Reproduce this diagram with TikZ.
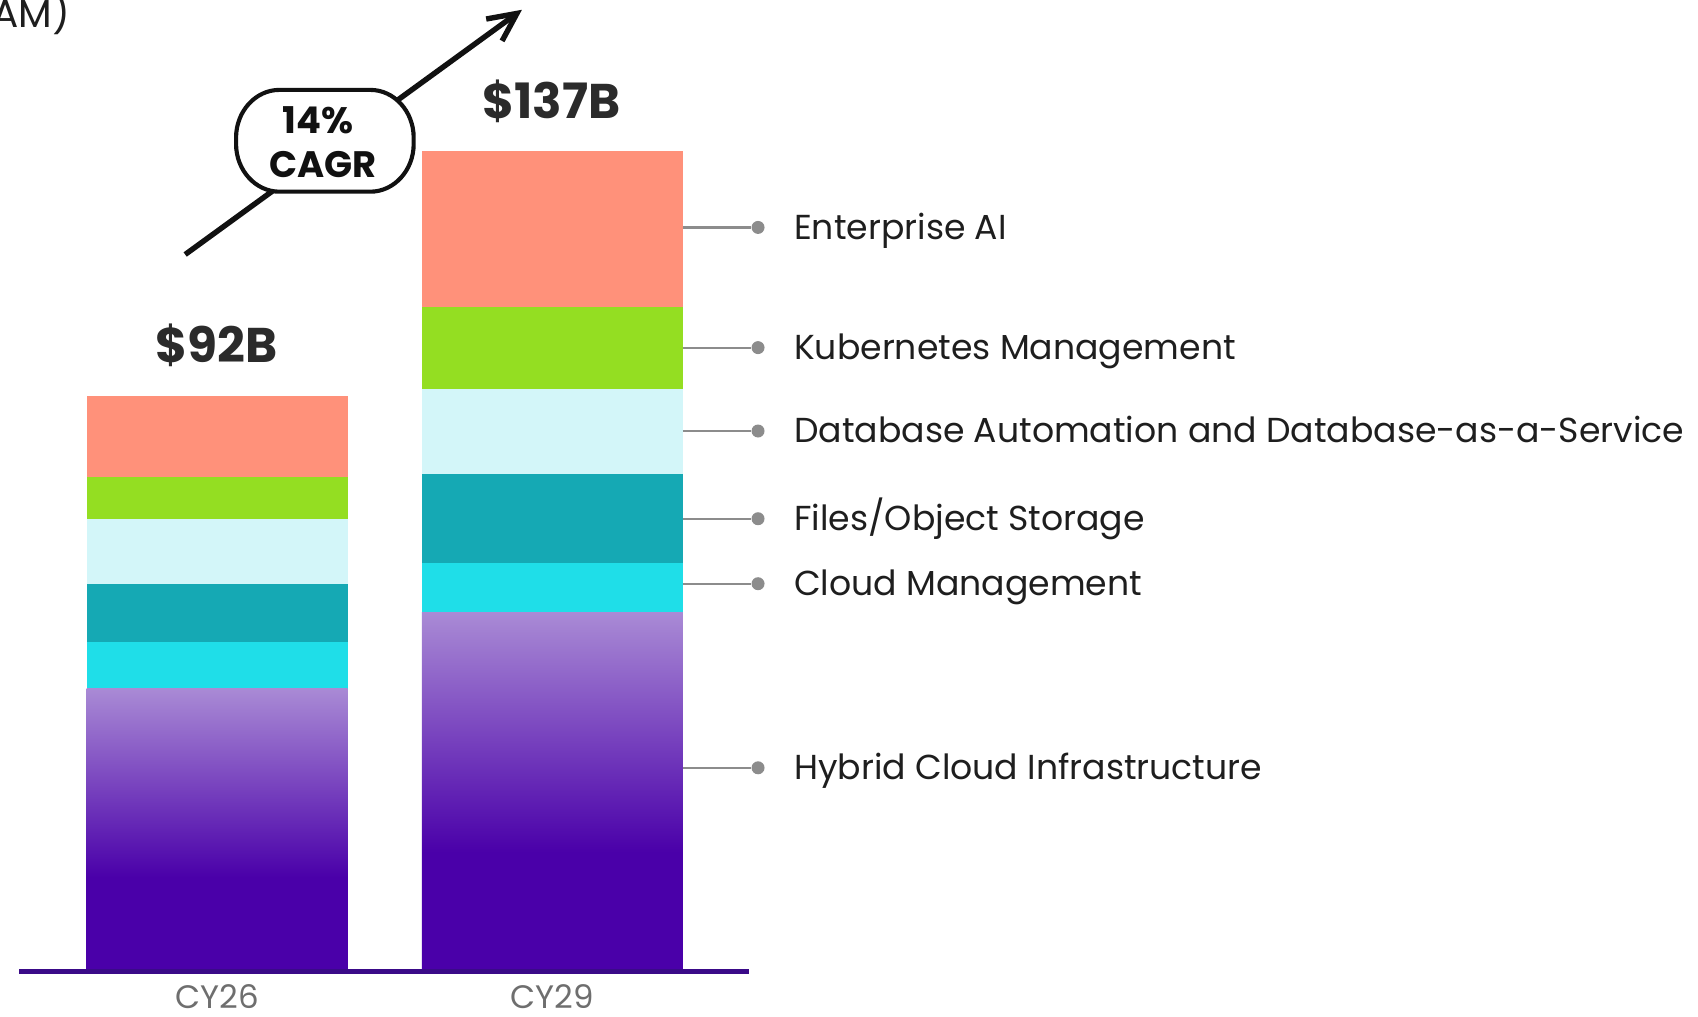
\documentclass[tikz,border=0pt]{standalone}
\usepackage{fontspec}
\setmainfont{Poppins}
\usetikzlibrary{arrows.meta}

\definecolor{segAI}{HTML}{FF917A}
\definecolor{segK8s}{HTML}{94DE22}
\definecolor{segDB}{HTML}{D3F6F9}
\definecolor{segFiles}{HTML}{15A9B4}
\definecolor{segCloud}{HTML}{1FDEE8}
\definecolor{segHybTop}{HTML}{A98AD5}
\definecolor{segHyb}{HTML}{4A00A9}
\definecolor{axisc}{HTML}{3A0A88}
\definecolor{leadc}{HTML}{8C8C8C}
\definecolor{labelc}{HTML}{1E1E1E}
\definecolor{totalc}{HTML}{2B2B2B}
\definecolor{yearc}{HTML}{6E6E6E}
\definecolor{inkc}{HTML}{111111}

% hybrid-cloud fill: solid in the lower third, fading to lavender above
\pgfdeclareverticalshading{hybridfade}{100bp}{%
  color(0bp)=(segHyb); color(41.5bp)=(segHyb);
  color(75bp)=(segHybTop); color(100bp)=(segHybTop)}

\begin{document}
\begin{tikzpicture}[x=0.5pt,y=-0.5pt,
  seglabel/.style={font=\fontsize{16}{19}\selectfont, text=labelc, inner sep=0pt, anchor=base west},
  leader/.style={draw=leadc, line width=1pt},
  dotnode/.style={circle, fill=leadc, inner sep=0pt, minimum size=6pt},
  total/.style={font=\fontsize{22.5}{26}\selectfont\bfseries, text=totalc, inner sep=0pt, anchor=base},
  badge/.style={font=\fontsize{17}{20}\selectfont\bfseries, text=inkc, inner sep=0pt, anchor=base},
  yearlbl/.style={font=\fontsize{15}{18}\selectfont, text=yearc, inner sep=0pt, anchor=base},
  growth/.style={draw=inkc, line width=2.5pt, -{Straight Barb[length=13pt,width=12.5pt]}},
  axisline/.style={draw=axisc, line width=2pt},
  hybrid/.style={shading=hybridfade},
]
\useasboundingbox (0,0) rectangle (1568,939);

% title fragment
\node[font=\fontsize{18}{20}\selectfont, text=labelc, inner sep=0pt, anchor=base east] (title) at (65,25) {AM)};

% ---- CY26 stack ----
\fill[segAI]    (80,366)   rectangle (321,440.5);
\fill[segK8s]   (80,440.5) rectangle (321,479);
\fill[segDB]    (80,479)   rectangle (321,539);
\fill[segFiles] (80,539)   rectangle (321,593);
\fill[segCloud] (80,593)   rectangle (321,636);
\shade[hybrid]  (80,636)   rectangle (321,896);

% ---- CY29 stack ----
\fill[segAI]    (389.5,139.5) rectangle (630.7,283.5);
\fill[segK8s]   (389.5,283.5) rectangle (630.7,359);
\fill[segDB]    (389.5,359)   rectangle (630.7,438);
\fill[segFiles] (389.5,438)   rectangle (630.7,520);
\fill[segCloud] (389.5,520)   rectangle (630.7,566);
\shade[hybrid]  (389.5,566)   rectangle (630.7,896);

% baseline axis
\coordinate (ax0) at (18,897);
\coordinate (ax1) at (692,897);
\draw[axisline] (ax0) -- (ax1);

% year labels
\node[yearlbl] (cy26) at (200.5,931) {CY26};
\node[yearlbl] (cy29) at (510,931) {CY29};

% totals
\node[total] (tot26) at (200,335) {\$92B};
\node[total] (tot29) at (509,109) {\$137B};

% growth arrow with CAGR badge
\coordinate (gS) at (171,235);
\coordinate (gE) at (482,9);
\draw[growth] (gS) -- (gE);
\draw[draw=inkc, fill=white, line width=1.9pt]
  (258,83) -- (342,83)
  .. controls (364.1,83) and (382,102.9) .. (382,127)
  -- (382,133)
  .. controls (382,157.1) and (364.1,177) .. (342,177)
  -- (258,177)
  .. controls (235.9,177) and (218,157.1) .. (218,133)
  -- (218,127)
  .. controls (218,102.9) and (235.9,83) .. (258,83) -- cycle;
\node[badge] (pct) at (293.5,123) {14\%};
\node[badge] (cagr) at (298,164) {CAGR};

% legend leaders
\coordinate (lAI)    at (630.7,210);
\coordinate (lK8s)   at (630.7,321);
\coordinate (lDB)    at (630.7,398);
\coordinate (lFiles) at (630.7,479);
\coordinate (lCloud) at (630.7,539);
\coordinate (lHyb)   at (630.7,709);

\node[dotnode] (dAI)    at (700,210) {};
\node[dotnode] (dK8s)   at (700,321) {};
\node[dotnode] (dDB)    at (700,398) {};
\node[dotnode] (dFiles) at (700,479) {};
\node[dotnode] (dCloud) at (700,539) {};
\node[dotnode] (dHyb)   at (700,709) {};

\draw[leader] (lAI) -- (dAI);
\draw[leader] (lK8s) -- (dK8s);
\draw[leader] (lDB) -- (dDB);
\draw[leader] (lFiles) -- (dFiles);
\draw[leader] (lCloud) -- (dCloud);
\draw[leader] (lHyb) -- (dHyb);

\node[seglabel] (tAI)    at (733,221) {Enterprise AI};
\node[seglabel] (tK8s)   at (733,332) {Kubernetes Management};
\node[seglabel] (tDB)    at (733,409) {Database Automation and Database-as-a-Service};
\node[seglabel] (tFiles) at (733,490) {Files/Object Storage};
\node[seglabel] (tCloud) at (733,550) {Cloud Management};
\node[seglabel] (tHyb)   at (733,720) {Hybrid Cloud Infrastructure};
\end{tikzpicture}
\end{document}
